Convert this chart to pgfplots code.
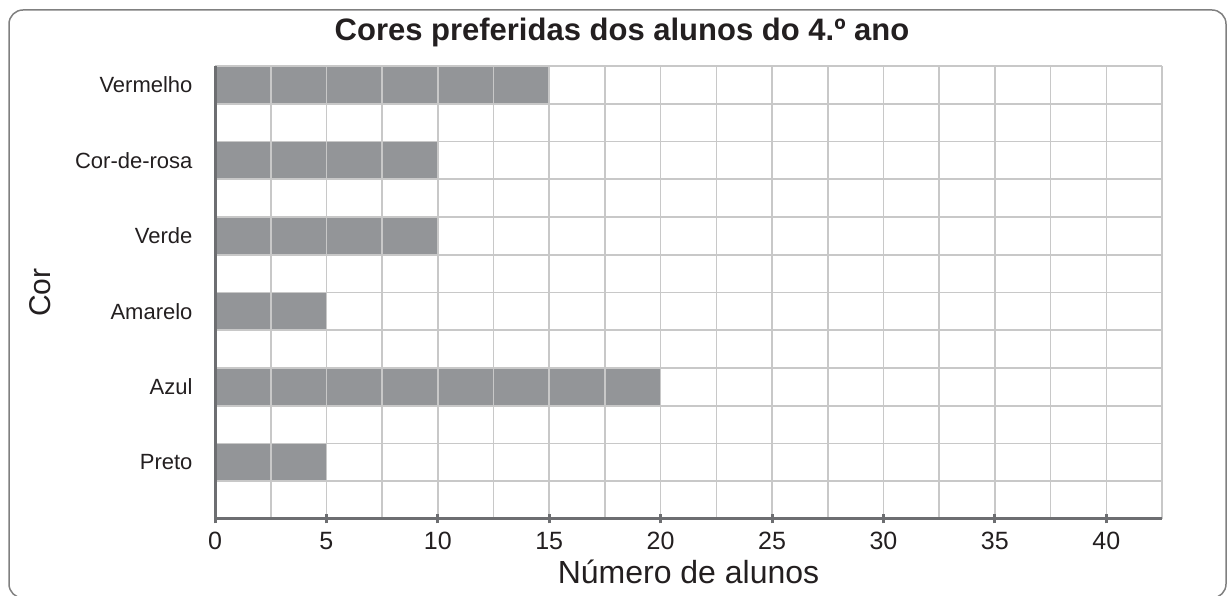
\documentclass[border=0pt]{standalone}
\usepackage{pgfplots}
\pgfplotsset{compat=1.18}
\usepackage{fontspec}
\setmainfont{Liberation Sans}
\definecolor{barg}{HTML}{939598}
\definecolor{gridg}{HTML}{C8C8C8}
\definecolor{axg}{HTML}{6D6E71}
\definecolor{txt}{HTML}{231F20}
\definecolor{frameg}{HTML}{808080}
\begin{document}
\begin{tikzpicture}[x=1pt,y=1pt]
\useasboundingbox (0,0) rectangle (1232,596);
\draw[frameg, line width=1.5pt, rounded corners=14pt] (9,-2) rectangle (1226,586);
\node[anchor=base, text=txt, font=\fontsize{31}{35}\selectfont\bfseries] at (622,555) {Cores preferidas dos alunos do 4.º ano};
\begin{axis}[
  at={(215pt,77pt)}, anchor=south west,
  scale only axis, width=947pt, height=453pt,
  xmin=0, xmax=42.5, ymin=0, ymax=12,
  xbar, bar width=1,
  axis on top,
  axis x line*=bottom, axis y line*=left,
  axis line style={axg, line width=3pt, -},
  xtick={0,5,...,40},
  minor xtick={2.5,7.5,...,42.5},
  ytick={1.5,3.5,5.5,7.5,9.5,11.5},
  yticklabels={Preto,Azul,Amarelo,Verde,Cor-de-rosa,Vermelho},
  minor ytick={1,2,...,12},
  xmajorgrids, xminorgrids, yminorgrids,
  major grid style={gridg, line width=1.6pt},
  minor grid style={gridg, line width=1.6pt},
  major x tick style={axg, line width=3pt},
  major y tick style={draw=none},
  minor tick style={draw=none},
  major tick length=9pt,
  xtick align=center,
  /pgf/number format/assume math mode=true,
  xticklabel style={font=\fontsize{25}{29}\selectfont, text=txt, yshift=-5pt},
  yticklabel style={font=\fontsize{22}{26}\selectfont, text=txt, xshift=-10pt},
  xlabel={Número de alunos},
  xlabel style={font=\fontsize{32}{36}\selectfont, text=txt, at={(axis description cs:0.5,-0.117)}, anchor=center},
  ylabel={Cor},
  ylabel style={font=\fontsize{30}{34}\selectfont, text=txt, at={(axis description cs:-0.185,0.5)}, anchor=center},
]
\addplot[fill=barg, draw=none] coordinates {(5,1.5) (20,3.5) (5,5.5) (10,7.5) (10,9.5) (15,11.5)};
\end{axis}
\end{tikzpicture}
\end{document}
